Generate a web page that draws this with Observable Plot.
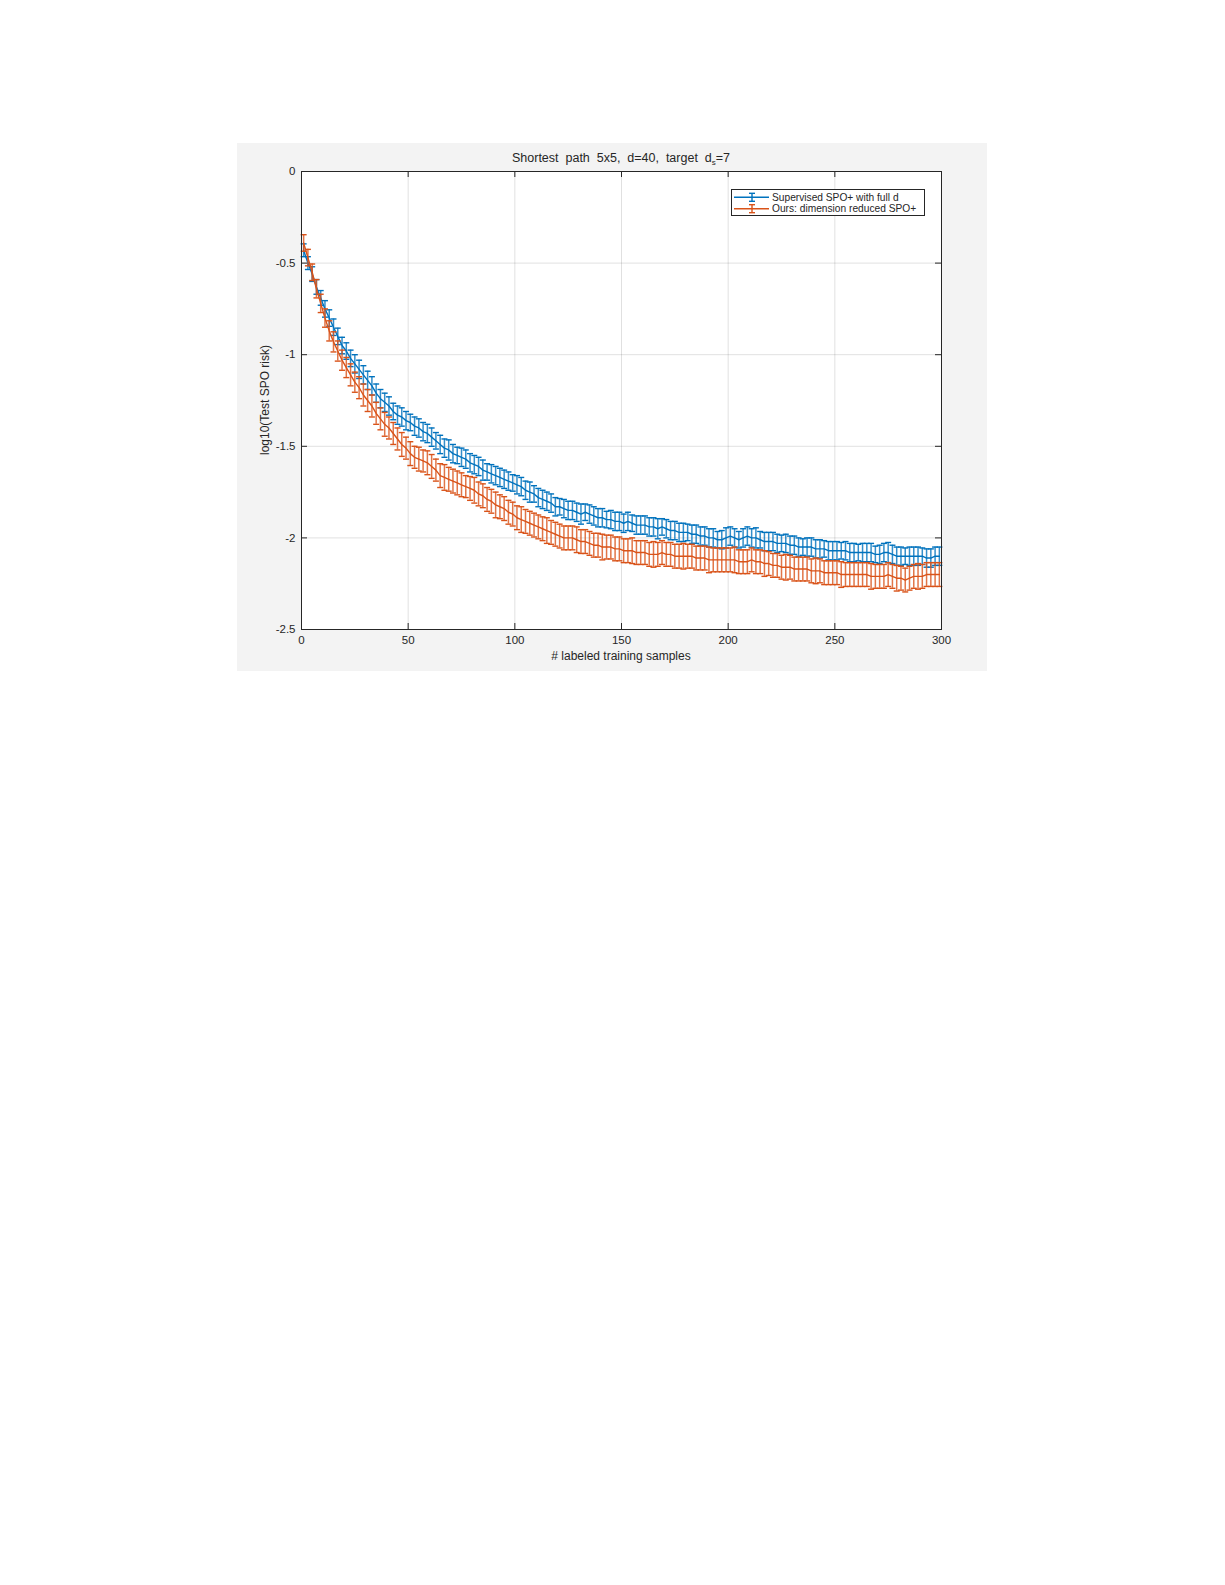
<!DOCTYPE html>
<html>
<head>
<meta charset="utf-8">
<script src="https://cdn.jsdelivr.net/npm/d3@7"></script>
<script src="https://cdn.jsdelivr.net/npm/@observablehq/plot@0.6"></script>
<style>
  body { margin: 0; background: #ffffff; width: 1225px; height: 1585px; position: relative; font-family: "Liberation Sans", Arial, sans-serif; }
  #fig { position: absolute; left: 237px; top: 143px; width: 750px; height: 528px; background: #f3f3f3; }
  #fig svg { position: absolute; left: 0; top: 0; }
  .lbl { position: absolute; color: #262626; font-family: "Liberation Sans", Arial, sans-serif; white-space: pre; }
  #title { left: 384px; top: 15.6px; transform: translate(-50%, -50%); font-size: 12.5px; }
  #xlabel { left: 384px; top: 513px; transform: translate(-50%, -50%); font-size: 12px; }
  #ylabel { left: 28px; top: 257px; transform: translate(-50%, -50%) rotate(-90deg); font-size: 12px; }
  #legend { position: absolute; left: 494px; top: 46px; width: 194px; height: 27px; background: #fff; border: 1px solid #262626; box-sizing: border-box; }
</style>
</head>
<body>
<div id="fig">
  <div class="lbl" id="title">Shortest  path  5x5,  d=40,  target  d<sub style="font-size:8px">s</sub>=7</div>
  <div class="lbl" id="xlabel"># labeled training samples</div>
  <div class="lbl" id="ylabel">log10(Test SPO risk)</div>
</div>
<script>
// ---- data ----
const seriesNames = ["Supervised SPO+ with full d", "Ours: dimension reduced SPO+"];
const seriesColors = ["#0072BD", "#D95319"];

const xs = [1,3,5,7,9,11,13,15,17,19,21,23,25,27,29,31,33,35,37,39,41,43,45,47,49,51,53,55,57,59,
61,63,65,67,69,71,73,75,77,79,81,83,85,87,89,91,93,95,97,99,101,103,105,107,109,111,113,115,117,119,
121,123,125,127,129,131,133,135,137,139,141,143,145,147,149,151,153,155,157,159,161,163,165,167,169,171,173,175,177,179,
181,183,185,187,189,191,193,195,197,199,201,203,205,207,209,211,213,215,217,219,221,223,225,227,229,231,233,235,237,239,
241,243,245,247,249,251,253,255,257,259,261,263,265,267,269,271,273,275,277,279,281,283,285,287,289,291,293,295,297,299];

const blueMean = [
-0.43,-0.50,-0.56,-0.63,-0.69,-0.75,-0.80,-0.85,-0.90,-0.95,
-0.98,-1.02,-1.05,-1.08,-1.11,-1.14,-1.17,-1.21,-1.24,-1.26,
-1.28,-1.31,-1.33,-1.34,-1.36,-1.37,-1.39,-1.40,-1.42,-1.43,
-1.45,-1.47,-1.49,-1.51,-1.52,-1.54,-1.55,-1.56,-1.57,-1.59,
-1.60,-1.61,-1.63,-1.64,-1.65,-1.66,-1.67,-1.68,-1.69,-1.70,
-1.71,-1.72,-1.74,-1.75,-1.76,-1.78,-1.79,-1.80,-1.81,-1.83,
-1.83,-1.84,-1.85,-1.85,-1.86,-1.87,-1.86,-1.87,-1.88,-1.89,
-1.89,-1.90,-1.90,-1.91,-1.91,-1.92,-1.91,-1.92,-1.93,-1.93,
-1.93,-1.94,-1.94,-1.95,-1.94,-1.95,-1.96,-1.96,-1.97,-1.97,
-1.97,-1.98,-1.98,-1.99,-1.99,-2.00,-2.00,-2.01,-2.01,-2.00,
-1.99,-2.00,-2.01,-2.00,-1.99,-2.00,-2.00,-2.01,-2.02,-2.02,
-2.02,-2.03,-2.03,-2.03,-2.04,-2.04,-2.05,-2.05,-2.05,-2.05,
-2.06,-2.06,-2.06,-2.07,-2.07,-2.07,-2.07,-2.07,-2.08,-2.08,
-2.08,-2.08,-2.08,-2.08,-2.09,-2.09,-2.08,-2.08,-2.09,-2.10,
-2.10,-2.10,-2.10,-2.10,-2.10,-2.10,-2.11,-2.11,-2.10,-2.10];

const blueErr = [
0.035,0.035,0.04,0.04,0.04,0.045,0.045,0.045,0.045,0.045,
0.045,0.045,0.05,0.05,0.05,0.05,0.05,0.05,0.05,0.05,
0.05,0.045,0.05,0.05,0.05,0.045,0.05,0.05,0.05,0.05,
0.05,0.045,0.05,0.05,0.055,0.05,0.045,0.05,0.05,0.05,
0.05,0.05,0.055,0.045,0.05,0.05,0.05,0.05,0.05,0.045,
0.05,0.05,0.05,0.055,0.045,0.05,0.05,0.05,0.05,0.05,
0.045,0.05,0.05,0.05,0.05,0.055,0.045,0.05,0.05,0.05,
0.05,0.045,0.05,0.05,0.05,0.05,0.05,0.045,0.05,0.05,
0.05,0.05,0.05,0.055,0.045,0.05,0.05,0.05,0.05,0.05,
0.045,0.05,0.05,0.05,0.05,0.05,0.05,0.045,0.05,0.055,
0.05,0.05,0.045,0.05,0.05,0.05,0.055,0.045,0.05,0.05,
0.05,0.05,0.045,0.05,0.05,0.05,0.05,0.045,0.05,0.05,
0.05,0.05,0.045,0.05,0.05,0.05,0.045,0.05,0.05,0.05,
0.045,0.05,0.05,0.05,0.045,0.05,0.05,0.055,0.05,0.05,
0.05,0.045,0.05,0.05,0.05,0.045,0.05,0.05,0.05,0.05];

const orangeMean = [
-0.39,-0.47,-0.55,-0.64,-0.72,-0.80,-0.87,-0.93,-0.98,-1.03,
-1.07,-1.11,-1.15,-1.18,-1.22,-1.25,-1.28,-1.32,-1.35,-1.38,
-1.40,-1.43,-1.46,-1.49,-1.51,-1.54,-1.56,-1.57,-1.58,-1.59,
-1.61,-1.63,-1.66,-1.67,-1.68,-1.69,-1.70,-1.71,-1.72,-1.73,
-1.74,-1.76,-1.77,-1.79,-1.80,-1.82,-1.83,-1.84,-1.86,-1.87,
-1.89,-1.90,-1.91,-1.92,-1.93,-1.94,-1.95,-1.96,-1.97,-1.98,
-1.99,-2.00,-2.00,-2.00,-2.01,-2.02,-2.02,-2.03,-2.04,-2.04,
-2.05,-2.05,-2.05,-2.06,-2.06,-2.07,-2.07,-2.07,-2.08,-2.08,
-2.08,-2.09,-2.09,-2.09,-2.08,-2.09,-2.09,-2.10,-2.10,-2.10,
-2.10,-2.10,-2.11,-2.11,-2.11,-2.12,-2.12,-2.12,-2.12,-2.12,
-2.12,-2.12,-2.13,-2.13,-2.13,-2.12,-2.13,-2.13,-2.14,-2.14,
-2.15,-2.15,-2.16,-2.16,-2.16,-2.17,-2.17,-2.17,-2.17,-2.18,
-2.18,-2.18,-2.19,-2.19,-2.19,-2.19,-2.20,-2.20,-2.20,-2.20,
-2.20,-2.20,-2.20,-2.21,-2.21,-2.21,-2.21,-2.20,-2.21,-2.22,
-2.22,-2.23,-2.22,-2.21,-2.21,-2.21,-2.20,-2.20,-2.20,-2.20];

const orangeErr = [
0.045,0.045,0.045,0.05,0.05,0.05,0.055,0.055,0.055,0.055,
0.055,0.06,0.055,0.06,0.06,0.06,0.06,0.06,0.06,0.065,
0.06,0.06,0.06,0.065,0.06,0.065,0.06,0.065,0.06,0.065,
0.065,0.06,0.065,0.07,0.065,0.065,0.065,0.065,0.06,0.065,
0.07,0.065,0.065,0.065,0.065,0.07,0.065,0.065,0.065,0.065,
0.065,0.07,0.065,0.065,0.065,0.065,0.065,0.07,0.065,0.065,
0.065,0.065,0.065,0.065,0.07,0.065,0.065,0.065,0.065,0.065,
0.07,0.065,0.065,0.065,0.065,0.065,0.065,0.07,0.065,0.065,
0.065,0.065,0.07,0.065,0.065,0.065,0.065,0.065,0.065,0.07,
0.065,0.065,0.065,0.065,0.065,0.07,0.065,0.065,0.065,0.065,
0.065,0.07,0.065,0.065,0.065,0.065,0.065,0.065,0.07,0.065,
0.065,0.065,0.065,0.07,0.065,0.065,0.065,0.065,0.065,0.065,
0.07,0.065,0.065,0.065,0.065,0.065,0.07,0.065,0.065,0.065,
0.065,0.065,0.065,0.07,0.065,0.065,0.065,0.065,0.065,0.07,
0.065,0.065,0.065,0.065,0.07,0.065,0.065,0.065,0.065,0.065];

const xTicks = [0, 50, 100, 150, 200, 250, 300];
const yTicks = [0, -0.5, -1, -1.5, -2, -2.5];
const yTickLabels = ["0", "-0.5", "-1", "-1.5", "-2", "-2.5"];

// ---- build tables ----
function table(mean, err) {
  return xs.map((x, i) => ({x, m: mean[i], lo: mean[i] - err[i], hi: mean[i] + err[i]}));
}
const blue = table(blueMean, blueErr);
const orange = table(orangeMean, orangeErr);

const cap = {draw(ctx, size) { const w = Math.sqrt(size / Math.PI); ctx.moveTo(-w, 0); ctx.lineTo(w, 0); }};

const W = 750, H = 528, ML = 64, MR = 46, MT = 28, MB = 42;
const innerW = W - ML - MR, innerH = H - MT - MB;
const axisColor = "#262626";

function series(data, color) {
  return [
    Plot.ruleX(data, {x: "x", y1: "lo", y2: "hi", stroke: color, strokeWidth: 1.5, strokeOpacity: 0.8}),
    Plot.dot(data, {x: "x", y: "lo", symbol: cap, r: 3, stroke: color, strokeWidth: 1.4, fill: "none"}),
    Plot.dot(data, {x: "x", y: "hi", symbol: cap, r: 3, stroke: color, strokeWidth: 1.4, fill: "none"}),
    Plot.line(data, {x: "x", y: "m", stroke: color, strokeWidth: 1.4})
  ];
}

const chart = Plot.plot({
  width: W, height: H,
  marginLeft: ML, marginRight: MR, marginTop: MT, marginBottom: MB,
  style: {background: "transparent", fontFamily: "'Liberation Sans', Arial, sans-serif", fontSize: "11.5px", color: axisColor},
  x: {domain: [0, 300]},
  y: {domain: [-2.5, 0]},
  marks: [
    Plot.frame({fill: "#ffffff", stroke: "none"}),
    Plot.gridX(xTicks, {stroke: "#000", strokeOpacity: 0.12}),
    Plot.gridY(yTicks, {stroke: "#000", strokeOpacity: 0.12}),
    ...series(blue, seriesColors[0]),
    ...series(orange, seriesColors[1]),
    Plot.axisX(xTicks, {tickSize: 0, tickPadding: 6, label: null, fill: axisColor}),
    Plot.axisY(yTicks, {tickSize: 0, tickPadding: 6, label: null, fill: axisColor,
      tickFormat: (d) => yTickLabels[yTicks.indexOf(d)]}),
    Plot.tickX(xTicks, {x: (d) => d, insetTop: innerH - 6, stroke: axisColor}),
    Plot.tickX(xTicks, {x: (d) => d, insetBottom: innerH - 6, stroke: axisColor}),
    Plot.tickY(yTicks, {y: (d) => d, insetRight: innerW - 6, stroke: axisColor}),
    Plot.tickY(yTicks, {y: (d) => d, insetLeft: innerW - 6, stroke: axisColor}),
    Plot.frame({stroke: axisColor, strokeWidth: 1})
  ]
});
document.getElementById("fig").appendChild(chart);

// ---- legend ----
const legend = document.createElement("div");
legend.id = "legend";
const ns = "http://www.w3.org/2000/svg";
const lsvg = document.createElementNS(ns, "svg");
lsvg.setAttribute("width", 192);
lsvg.setAttribute("height", 25);
lsvg.style.position = "absolute";
lsvg.style.left = "0px";
lsvg.style.top = "0px";
seriesNames.forEach((name, i) => {
  const y = 7.3 + i * 11.4;
  const g = document.createElementNS(ns, "g");
  g.setAttribute("stroke", seriesColors[i]);
  g.setAttribute("stroke-width", 1.4);
  const mk = (x1, y1, x2, y2) => {
    const l = document.createElementNS(ns, "line");
    l.setAttribute("x1", x1); l.setAttribute("y1", y1); l.setAttribute("x2", x2); l.setAttribute("y2", y2);
    g.appendChild(l);
  };
  mk(2, y, 37, y);
  mk(20, y - 4, 20, y + 4);
  mk(17, y - 4, 23, y - 4);
  mk(17, y + 4, 23, y + 4);
  lsvg.appendChild(g);
  const t = document.createElementNS(ns, "text");
  t.setAttribute("x", 40);
  t.setAttribute("y", y);
  t.setAttribute("dy", "0.35em");
  t.setAttribute("font-size", "10.2px");
  t.setAttribute("fill", axisColor);
  t.setAttribute("font-family", "'Liberation Sans', Arial, sans-serif");
  t.textContent = name;
  lsvg.appendChild(t);
});
legend.appendChild(lsvg);
document.getElementById("fig").appendChild(legend);
</script>
</body>
</html>
